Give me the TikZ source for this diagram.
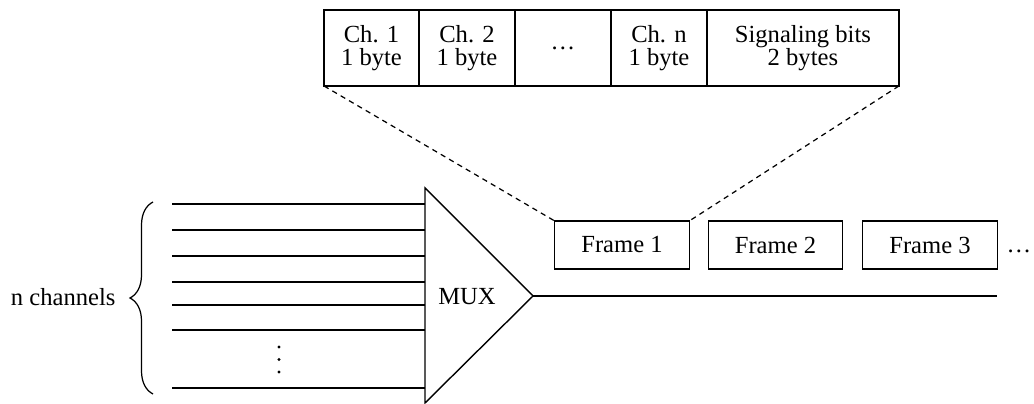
\documentclass[tikz,border=0pt]{standalone}
\usepackage{fontspec}
\setmainfont{Liberation Serif}
\usetikzlibrary{positioning, decorations.pathreplacing}

\begin{document}
\begin{tikzpicture}[
    x=0.02cm, y=-0.02cm,
    font=\fontsize{14}{13.5}\selectfont,
    line width=0.8pt,
    slot/.style={draw, rectangle, align=center, outer sep=0pt, inner sep=0pt, minimum height=1.52cm, minimum width=1.92cm},
    framebox/.style={draw, rectangle, outer sep=0pt, minimum height=0.96cm, minimum width=2.69cm},
    zoomline/.style={dash pattern=on 3pt off 2.5pt, line width=0.7pt}
]
\useasboundingbox (0,0) rectangle (1034,404);

% Frame layout
\node (ch1) [slot, minimum width=1.9cm] at (371.5,48) {Ch. 1\\1 byte};
\node (ch2) [slot, right=0pt of ch1] {Ch. 2\\1 byte};
\node (chdots) [slot, right=0pt of ch2] {\dots};
\node (chn) [slot, right=0pt of chdots] {Ch. n\\1 byte};
\node (sig) [slot, right=0pt of chn, minimum width=3.84cm] {Signaling bits\\2 bytes};

% Frames on the line
\node (f1) [framebox] at (622,245) {Frame 1};
\node (f2) [framebox] at (775.5,245) {Frame 2};
\node (f3) [framebox] at (930,245) {Frame 3};
\node (more) [inner sep=0pt] at (1019,251) {\dots};

% MUX
\coordinate (muxtop) at (425,188);
\coordinate (muxbot) at (425,403);
\coordinate (muxout) at (533,296);
\draw (muxtop) -- (muxout) -- (muxbot) -- cycle;
\node (mux) at (467,297) {MUX};
\coordinate (lineend) at (997,296);

% Input channels
\foreach \i/\y in {1/204, 2/230, 3/256, 4/282, 5/305, 6/330, 7/388} {
    \coordinate (in\i) at (172,\y);
    \draw (in\i) -- (in\i -| muxtop);
}
\foreach \y in {347, 359.5, 372}
    \fill (279,\y) circle (0.032cm);

% Brace and label
\coordinate (bbot) at (153,394);
\coordinate (btop) at (153,202);
\draw [decorate, decoration={brace, amplitude=0.46cm}, line width=0.7pt] (bbot) -- (btop);
\coordinate (btip) at (128,297);
\node (nch) [left=0.12cm of btip] {n channels};

% Connections
\draw (muxout) -- (lineend);
\draw [zoomline] (ch1.south west) -- (f1.north west);
\draw [zoomline] (sig.south east) -- (f1.north east);

\end{tikzpicture}
\end{document}
